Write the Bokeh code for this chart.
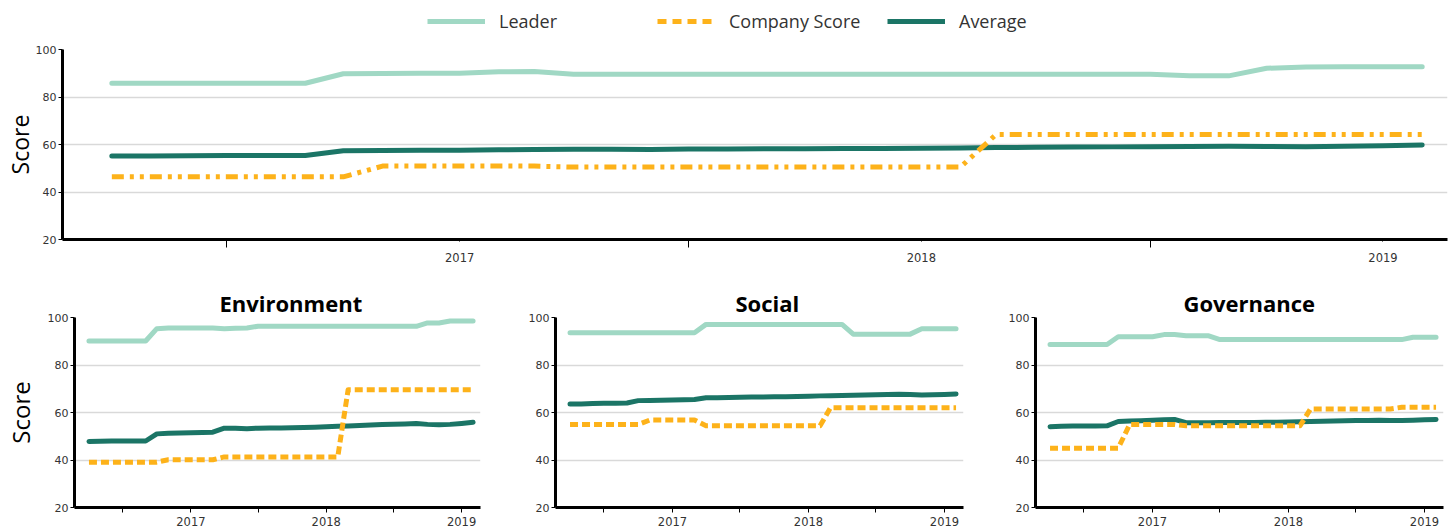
import pandas as pd
from bokeh.plotting import figure
from bokeh.models import (ColumnDataSource, FixedTicker, CustomJSTickFormatter, Legend,
                          LegendItem, Range1d)
from bokeh.layouts import column, row
from bokeh.embed import file_html
from bokeh.resources import INLINE

# ---------------- data ----------------
months = pd.date_range("2016-04-01", periods=35, freq="MS")

overall_leader = [85.8, 85.8, 85.8, 85.8, 85.8, 85.8, 89.8, 89.9, 90.0, 90.0, 90.6, 90.7,
                  89.6, 89.6, 89.6, 89.6, 89.6, 89.6, 89.6, 89.6, 89.6, 89.6, 89.6, 89.6,
                  89.6, 89.6, 89.6, 89.6, 88.9, 88.9, 92.1, 92.6, 92.7, 92.7, 92.7]
overall_company = [46.4, 46.4, 46.4, 46.4, 46.4, 46.4, 46.4, 50.9, 50.9, 50.9, 50.9, 50.9,
                   50.5, 50.5, 50.5, 50.5, 50.5, 50.5, 50.5, 50.5, 50.5, 50.5, 50.5, 64.2,
                   64.2, 64.2, 64.2, 64.2, 64.2, 64.2, 64.2, 64.2, 64.2, 64.2, 64.2]
overall_average = [55.2, 55.2, 55.3, 55.4, 55.4, 55.4, 57.4, 57.5, 57.6, 57.6, 57.8, 57.9,
                   58.0, 58.0, 57.9, 58.1, 58.1, 58.2, 58.2, 58.3, 58.3, 58.4, 58.5, 58.7,
                   58.8, 58.9, 59.0, 59.1, 59.2, 59.3, 59.2, 59.1, 59.3, 59.5, 59.8]

env_leader = [90.1, 90.1, 90.1, 90.1, 90.1, 90.1, 95.3, 95.6, 95.6, 95.6, 95.6, 95.6,
              95.3, 95.5, 95.6, 96.3, 96.3, 96.3, 96.3, 96.3, 96.3, 96.3, 96.3, 96.3,
              96.3, 96.3, 96.3, 96.3, 96.3, 96.3, 97.7, 97.7, 98.5, 98.5, 98.5]
env_company = [39.1, 39.1, 39.1, 39.1, 39.1, 39.1, 39.1, 40.1, 40.1, 40.1, 40.1, 40.1,
               41.3, 41.3, 41.3, 41.3, 41.3, 41.3, 41.3, 41.3, 41.3, 41.3, 41.3, 69.6,
               69.6, 69.6, 69.6, 69.6, 69.6, 69.6, 69.6, 69.6, 69.6, 69.6, 69.6]
env_average = [47.8, 47.9, 48.0, 48.0, 48.0, 48.0, 51.0, 51.3, 51.4, 51.5, 51.6, 51.7,
               53.4, 53.4, 53.2, 53.4, 53.5, 53.5, 53.6, 53.7, 53.8, 54.0, 54.2, 54.3,
               54.5, 54.7, 54.9, 55.1, 55.2, 55.4, 55.0, 54.8, 55.0, 55.4, 55.9]

soc_leader = [93.6, 93.6, 93.6, 93.6, 93.6, 93.6, 93.6, 93.6, 93.6, 93.6, 93.6, 93.6,
              97.1, 97.1, 97.1, 97.1, 97.1, 97.1, 97.1, 97.1, 97.1, 97.1, 97.1, 97.1,
              97.1, 93.0, 93.0, 93.0, 93.0, 93.0, 93.0, 95.3, 95.3, 95.3, 95.3]
soc_company = [55.0, 55.0, 55.0, 55.0, 55.0, 55.0, 55.0, 56.8, 56.8, 56.8, 56.8, 56.8,
               54.4, 54.4, 54.4, 54.4, 54.4, 54.4, 54.4, 54.4, 54.4, 54.4, 54.4, 62.0,
               62.0, 62.0, 62.0, 62.0, 62.0, 62.0, 62.0, 62.0, 62.0, 62.0, 62.0]
soc_average = [63.6, 63.6, 63.8, 63.9, 63.9, 64.0, 65.0, 65.1, 65.2, 65.3, 65.4, 65.5,
               66.2, 66.2, 66.3, 66.4, 66.5, 66.5, 66.6, 66.6, 66.7, 66.8, 67.0, 67.1,
               67.2, 67.3, 67.4, 67.5, 67.6, 67.7, 67.6, 67.4, 67.5, 67.6, 67.8]

gov_leader = [88.6, 88.6, 88.6, 88.6, 88.6, 88.6, 91.9, 91.9, 91.9, 91.9, 92.8, 92.8,
              92.3, 92.3, 92.3, 90.7, 90.7, 90.7, 90.7, 90.7, 90.7, 90.7, 90.7, 90.7,
              90.7, 90.7, 90.7, 90.7, 90.7, 90.7, 90.7, 90.7, 91.7, 91.7, 91.7]
gov_company = [45.0, 45.0, 45.0, 45.0, 45.0, 45.0, 45.0, 55.0, 55.0, 55.0, 55.0, 55.0,
               54.4, 54.4, 54.4, 54.4, 54.4, 54.4, 54.4, 54.4, 54.4, 54.4, 54.4, 61.5,
               61.5, 61.5, 61.5, 61.5, 61.5, 61.5, 61.5, 62.2, 62.2, 62.2, 62.2]
gov_average = [54.0, 54.2, 54.3, 54.3, 54.3, 54.4, 56.2, 56.4, 56.5, 56.7, 57.0, 57.1,
               55.7, 55.7, 55.7, 55.8, 55.8, 55.8, 55.8, 55.9, 55.9, 56.0, 56.1, 56.2,
               56.3, 56.4, 56.5, 56.6, 56.6, 56.7, 56.6, 56.6, 56.7, 56.9, 57.1]

series_names = ["Leader", "Company Score", "Average"]
y_ticks = [20, 40, 60, 80, 100]
year_ticks = ["2017-01-01", "2018-01-01", "2019-01-01"]
half_ticks = ["2016-07-01", "2017-07-01", "2018-07-01"]

# ---------------- style ----------------
C_LEADER = "#a0d8c4"
C_COMPANY = "#fdb21a"
C_AVG = "#1b7566"
GRID = "#d9d9d9"
TXT = "#333333"
FONT = "Open Sans"
TICKFONT = "DejaVu Sans"

def ms(d):
    return pd.Timestamp(d).value // 10**6

x_start = pd.Timestamp("2016-02-22")
x_end = pd.Timestamp("2019-02-21")

fmt = CustomJSTickFormatter(code="return new Date(tick).getUTCFullYear().toString();")


def make_fig(width, height, left, right, top, bottom, leader, company, average,
             dash, title=None, title_offset=0, ylabel=None, major_out=5, minor_out=5,
             ylabel_size="24px", ylabel_standoff=0):
    p = figure(width=width, height=height, output_backend="svg", toolbar_location=None,
               x_axis_type="datetime", min_border_left=left, min_border_right=right,
               min_border_top=top, min_border_bottom=bottom,
               x_range=Range1d(x_start, x_end), y_range=Range1d(20, 100))
    p.outline_line_color = None
    p.background_fill_color = "white"
    p.border_fill_color = "white"
    src = ColumnDataSource(dict(x=months, leader=leader, company=company, average=average))
    p.line("x", "leader", source=src, line_color=C_LEADER, line_width=5,
           line_join="round", line_cap="round")
    p.line("x", "average", source=src, line_color=C_AVG, line_width=5,
           line_join="round", line_cap="round")
    p.line("x", "company", source=src, line_color=C_COMPANY, line_width=5,
           line_dash=dash, line_join="round")

    p.xgrid.grid_line_color = None
    p.ygrid.grid_line_color = GRID
    p.ygrid.grid_line_width = 1.5

    p.yaxis.ticker = FixedTicker(ticks=y_ticks)
    p.yaxis.axis_line_width = 3
    p.yaxis.axis_line_color = "black"
    p.yaxis.major_tick_out = 4
    p.yaxis.major_tick_in = 0
    p.yaxis.minor_tick_line_color = None
    p.yaxis.major_label_standoff = 2
    p.yaxis.major_label_text_font = TICKFONT
    p.yaxis.major_label_text_font_size = "11px"
    p.yaxis.major_label_text_color = TXT
    if ylabel:
        p.yaxis.axis_label = ylabel
        p.yaxis.axis_label_text_font = FONT
        p.yaxis.axis_label_text_font_size = ylabel_size
        p.yaxis.axis_label_text_font_style = "normal"
        p.yaxis.axis_label_text_color = "black"
        p.yaxis.axis_label_standoff = ylabel_standoff

    p.xaxis.ticker = FixedTicker(ticks=[ms(d) for d in year_ticks],
                                 minor_ticks=[ms(d) for d in half_ticks])
    p.xaxis.formatter = fmt
    p.xaxis.axis_line_width = 3
    p.xaxis.axis_line_color = "black"
    p.xaxis.major_tick_out = major_out
    p.xaxis.major_tick_in = 0
    p.xaxis.minor_tick_out = minor_out
    p.xaxis.minor_tick_in = 0
    p.xaxis.minor_tick_line_color = "black"
    p.xaxis.major_tick_line_color = "black"
    p.xaxis.major_label_text_font = TICKFONT
    p.xaxis.major_label_text_font_size = "11.5px"
    p.xaxis.major_label_text_color = TXT

    if title:
        p.title.text = title
        p.title.text_font = FONT
        p.title.text_font_size = "22px"
        p.title.text_font_style = "bold"
        p.title.text_color = "black"
        p.title.align = "left"
        p.title.offset = title_offset
        p.title.standoff = 0
    return p


# legend strip
leg = figure(width=1456, height=39, output_backend="svg", toolbar_location=None,
             x_axis_location=None, y_axis_location=None,
             min_border_left=0, min_border_right=0, min_border_top=0, min_border_bottom=0,
             x_range=Range1d(0, 1), y_range=Range1d(0, 1))
leg.outline_line_color = None
leg.xgrid.grid_line_color = None
leg.ygrid.grid_line_color = None
# legend-only renderers: their points lie outside the visible range
leg_src = ColumnDataSource(dict(x=[-5, -4], y=[-5, -5]))
r_l = leg.line("x", "y", source=leg_src, line_color=C_LEADER, line_width=5)
r_c = leg.line("x", "y", source=leg_src, line_color=C_COMPANY, line_width=5, line_dash="9 6")
r_a = leg.line("x", "y", source=leg_src, line_color=C_AVG, line_width=5)
legend = Legend(items=[LegendItem(label=series_names[0], renderers=[r_l]),
                       LegendItem(label=series_names[1], renderers=[r_c]),
                       LegendItem(label=series_names[2], renderers=[r_a])],
                orientation="horizontal", location=(365, 6),
                glyph_width=58, glyph_height=24, label_height=24, label_standoff=14,
                label_width=158, spacing=0, padding=0, margin=0, border_line_color=None,
                background_fill_alpha=0, label_text_font=FONT,
                label_text_font_size="18px", label_text_color=TXT)
leg.add_layout(legend)

# top overall chart
top = make_fig(1456, 228, 62, 9, 10, 28, overall_leader, overall_company, overall_average,
               "12 6 4 6 4 6", ylabel="Score", major_out=2, minor_out=8,
               ylabel_size="23px", ylabel_standoff=-3)
top.xaxis.major_label_standoff = 5

env = make_fig(515, 263, 73, 35, 50, 23, env_leader, env_company, env_average,
               "8 4", title="Environment", title_offset=145, ylabel="Score",
               ylabel_standoff=8)
soc = make_fig(480, 263, 40, 32, 50, 23, soc_leader, soc_company, soc_average,
               "8 4", title="Social", title_offset=180)
gov = make_fig(461, 263, 40, 13, 50, 23, gov_leader, gov_company, gov_average,
               "8 4", title="Governance", title_offset=148)
for f in (env, soc, gov):
    f.xaxis.major_label_standoff = 4

layout = column(leg, top, row(env, soc, gov))
open("out.html", "w").write(file_html(layout, INLINE))
